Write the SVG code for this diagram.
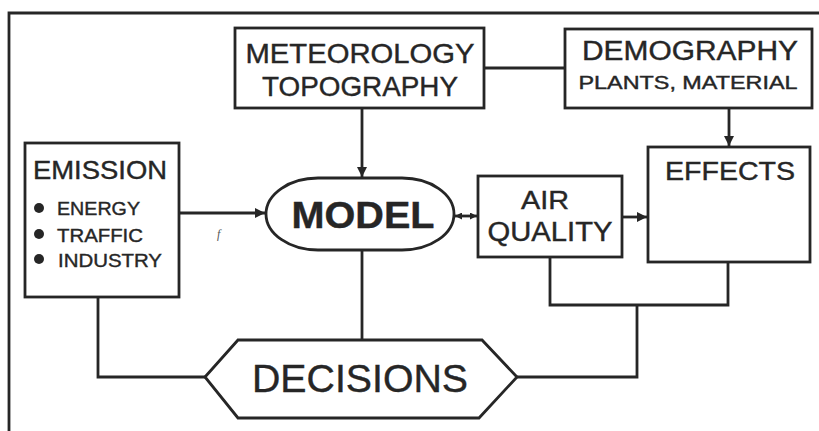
<svg xmlns="http://www.w3.org/2000/svg" width="819" height="431" viewBox="0 0 819 431">
<defs>
<marker id="ah" viewBox="0 0 10 10" refX="10" refY="5" markerWidth="10" markerHeight="10" markerUnits="userSpaceOnUse" orient="auto">
<path d="M0,0 L10,5 L0,10 Z" fill="#262626"/>
</marker>
<marker id="sah" viewBox="0 0 10 10" refX="10" refY="5" markerWidth="7" markerHeight="7" markerUnits="userSpaceOnUse" orient="auto-start-reverse">
<path d="M0,0 L10,5 L0,10 Z" fill="#262626"/>
</marker>
</defs>
<style>
.box{fill:#fff;stroke:#262626;stroke-width:2.8}
.ln{fill:none;stroke:#262626;stroke-width:2.8}
.t{font-family:"Liberation Sans",Arial,sans-serif;fill:#262626;stroke:#262626;stroke-width:0.4;text-anchor:middle}
.tl{font-family:"Liberation Sans",Arial,sans-serif;fill:#262626;stroke:#262626;stroke-width:0.4}
</style>
<rect width="819" height="431" fill="#fff"/>
<path class="ln" d="M9,431 V13 H819"/>
<g id="connectors">
<path class="ln" d="M362,108 V177" marker-end="url(#ah)"/>
<path class="ln" d="M484,68 H565"/>
<path class="ln" d="M729,108 V146" marker-end="url(#ah)"/>
<path class="ln" d="M179,213 H265" marker-end="url(#ah)"/>
<path class="ln" d="M455,216 H477" marker-start="url(#sah)" marker-end="url(#sah)"/>
<path class="ln" d="M622,217 H647" marker-end="url(#ah)"/>
<path class="ln" d="M550,257 V305 H728 V262"/>
<path class="ln" d="M637,305 V377 H517"/>
<path class="ln" d="M98,297 V377 H205"/>
<path class="ln" d="M362,250 V340"/>
</g>
<g id="meteorology">
<rect class="box" x="235" y="28" width="249" height="80"/>
<text class="t" x="360" y="63" font-size="28" textLength="229" lengthAdjust="spacingAndGlyphs">METEOROLOGY</text>
<text class="t" x="360" y="96" font-size="28" textLength="196" lengthAdjust="spacingAndGlyphs">TOPOGRAPHY</text>
</g>
<g id="demography">
<rect class="box" x="565" y="29" width="247" height="79"/>
<text class="t" x="690" y="60" font-size="27" textLength="216" lengthAdjust="spacingAndGlyphs">DEMOGRAPHY</text>
<text class="t" x="688" y="89" font-size="18" textLength="219" lengthAdjust="spacingAndGlyphs">PLANTS, MATERIAL</text>
</g>
<g id="emission">
<rect class="box" x="25" y="143" width="154" height="154"/>
<text class="tl" x="33" y="179" font-size="25" textLength="134" lengthAdjust="spacingAndGlyphs">EMISSION</text>
<circle cx="39" cy="208" r="5" fill="#262626"/>
<circle cx="39" cy="234" r="5" fill="#262626"/>
<circle cx="39" cy="259" r="5" fill="#262626"/>
<text class="tl" x="57" y="215" font-size="19" textLength="83" lengthAdjust="spacingAndGlyphs">ENERGY</text>
<text class="tl" x="57" y="242" font-size="19" textLength="86" lengthAdjust="spacingAndGlyphs">TRAFFIC</text>
<text class="tl" x="58" y="267" font-size="19" textLength="104" lengthAdjust="spacingAndGlyphs">INDUSTRY</text>
</g>
<text x="217" y="238" font-family="Liberation Serif,serif" font-style="italic" font-size="12" fill="#555">f</text>
<g id="model">
<rect class="box" x="266" y="178" width="188" height="72" rx="52" ry="36"/>
<text class="t" x="363" y="228" font-size="36" font-weight="bold" textLength="143" lengthAdjust="spacingAndGlyphs">MODEL</text>
</g>
<g id="airquality">
<rect class="box" x="478" y="176" width="144" height="81"/>
<text class="t" x="545" y="209" font-size="26" textLength="48" lengthAdjust="spacingAndGlyphs">AIR</text>
<text class="t" x="550" y="241" font-size="27" textLength="125" lengthAdjust="spacingAndGlyphs">QUALITY</text>
</g>
<g id="effects">
<rect class="box" x="648" y="147" width="162" height="115"/>
<text class="t" x="730" y="180" font-size="25" textLength="130" lengthAdjust="spacingAndGlyphs">EFFECTS</text>
</g>
<g id="decisions">
<polygon class="box" points="205,377 238,340 482,340 517,377 479,418 238,418"/>
<text class="t" x="360" y="392" font-size="39" font-family="Open Sans,Liberation Sans,sans-serif" stroke-width="0.2" textLength="216" lengthAdjust="spacingAndGlyphs">DECISIONS</text>
</g>
</svg>
